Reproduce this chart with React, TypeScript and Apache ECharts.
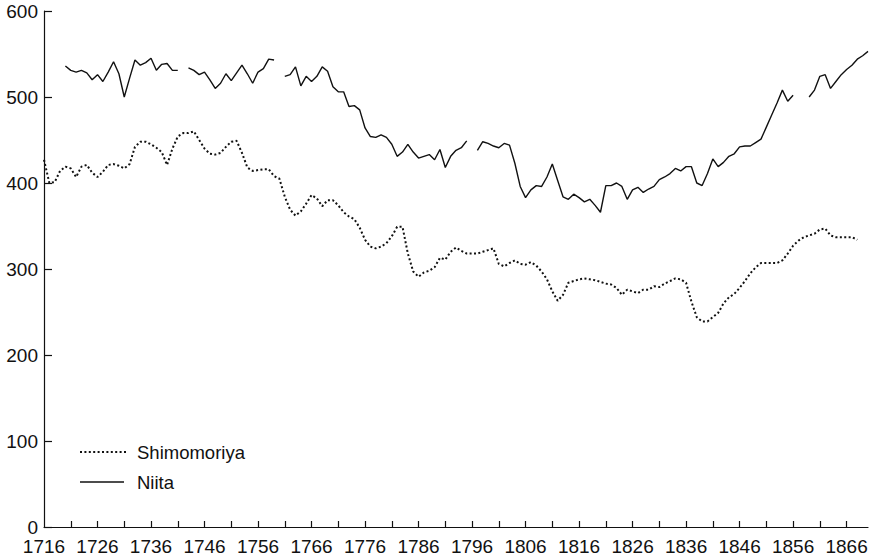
import { useEffect, useRef } from "react";
import * as echarts from "echarts";

// Niita (solid), annual values from 1720 to 1870; null = gap in the record
const niitaStart = 1720;
const niitaValues: (number | null)[] = [
  536, 531, 529, 531, 528, 520, 526, 518, 529, 541, // 1720-1729
  527, 500, 522, 543, 537, 540, 545, 531, 538, 539, // 1730-1739
  531, 531, null, 534, 531, 526, 529, 520, 510, 516, // 1740-1749
  527, 519, 528, 537, 527, 516, 529, 533, 544, 543, // 1750-1759
  null, 524, 526, 535, 513, 524, 518, 524, 535, 530, // 1760-1769
  512, 506, 506, 489, 490, 485, 464, 454, 453, 456, // 1770-1779
  453, 445, 431, 436, 445, 436, 429, 431, 433, 427, // 1780-1789
  439, 418, 431, 438, 441, 449, null, 438, 448, 446, // 1790-1799
  443, 441, 446, 444, 423, 396, 383, 392, 397, 396, // 1800-1809
  407, 422, 403, 384, 381, 387, 383, 378, 381, 374, // 1810-1819
  366, 397, 397, 400, 396, 381, 392, 395, 389, 393, // 1820-1829
  396, 404, 407, 411, 417, 414, 419, 419, 400, 397, // 1830-1839
  411, 428, 419, 424, 431, 434, 442, 443, 443, 447, // 1840-1849
  451, 465, 479, 493, 508, 495, 502, null, null, 500, // 1850-1859
  508, 524, 526, 510, 518, 526, 532, 537, 544, 548, // 1860-1869
  553, // 1870
];

// Shimomoriya (dotted), annual values from 1716 to 1868
const shimoStart = 1716;
const shimoValues: (number | null)[] = [
  427, 400, 401, 414, // 1716-1719
  419, 417, 407, 419, 421, 412, 407, 413, 421, 422, // 1720-1729
  420, 417, 422, 442, 448, 448, 445, 441, 436, 421, // 1730-1739
  440, 454, 458, 458, 460, 450, 440, 434, 433, 435, // 1740-1749
  442, 448, 449, 435, 418, 414, 415, 416, 416, 408, // 1750-1759
  405, 384, 369, 362, 367, 376, 386, 382, 373, 380, // 1760-1769
  380, 374, 366, 361, 358, 348, 334, 326, 324, 326, // 1770-1779
  330, 338, 349, 349, 318, 297, 291, 296, 298, 302, // 1780-1789
  313, 311, 320, 325, 321, 318, 318, 318, 320, 322, // 1790-1799
  324, 306, 303, 307, 310, 306, 305, 308, 304, 297, // 1800-1809
  288, 274, 263, 270, 284, 286, 288, 289, 288, 287, // 1810-1819
  285, 283, 282, 278, 270, 276, 274, 272, 276, 276, // 1820-1829
  280, 279, 283, 286, 289, 288, 284, 262, 244, 239, // 1830-1839
  239, 244, 249, 260, 267, 271, 278, 286, 295, 302, // 1840-1849
  307, 307, 307, 307, 310, 318, 327, 333, 337, 339, // 1850-1859
  341, 346, 347, 339, 337, 337, 337, 337, 334, // 1860-1868
];

const seriesNames = ["Shimomoriya", "Niita"];

const xMin = 1716;
const xMax = 1870;
const xTickValues = [
  1721, 1726, 1731, 1736, 1741, 1746, 1751, 1756, 1761, 1766, 1771, 1776, 1781, 1786, 1791,
  1796, 1801, 1806, 1811, 1816, 1821, 1826, 1831, 1836, 1841, 1846, 1851, 1856, 1861, 1866,
];
const xLabelValues = [
  1716, 1726, 1736, 1746, 1756, 1766, 1776, 1786, 1796, 1806, 1816, 1826, 1836, 1846, 1856, 1866,
];
const yTicks = [0, 100, 200, 300, 400, 500, 600];

const FONT = "'Liberation Sans', Arial, Helvetica, sans-serif";
const INK = "#111";
const DOT_DASH = [2, 2.4];

function toPairs(start: number, values: (number | null)[]) {
  return values.map((v, i) => [start + i, v === null ? "-" : v]);
}

export default function App() {
  const ref = useRef<HTMLDivElement>(null);

  useEffect(() => {
    if (!ref.current) return;
    const chart = echarts.init(ref.current, undefined, { renderer: "svg" });
    chart.setOption({
      animation: false,
      backgroundColor: "#ffffff",
      textStyle: { fontFamily: FONT },
      grid: { left: 44, right: 3, top: 11, bottom: 33, containLabel: false },
      graphic: [
        {
          type: "line",
          shape: { x1: 80, y1: 452, x2: 128, y2: 452 },
          style: { stroke: INK, lineWidth: 2, lineDash: DOT_DASH },
        },
        {
          type: "text",
          x: 137,
          y: 452,
          style: {
            text: seriesNames[0],
            fontFamily: FONT,
            fontSize: 18.5,
            fill: INK,
            verticalAlign: "middle",
            align: "left",
          },
        },
        {
          type: "line",
          shape: { x1: 80, y1: 482, x2: 124, y2: 482 },
          style: { stroke: INK, lineWidth: 1.4 },
        },
        {
          type: "text",
          x: 137,
          y: 482,
          style: {
            text: seriesNames[1],
            fontFamily: FONT,
            fontSize: 18.5,
            fill: INK,
            verticalAlign: "middle",
            align: "left",
          },
        },
      ],
      xAxis: {
        type: "value",
        min: xMin,
        max: xMax,
        interval: 5,
        splitLine: { show: false },
        axisLine: { show: true, lineStyle: { color: INK, width: 1.2 } },
        axisTick: {
          show: true,
          inside: true,
          length: 6,
          customValues: xTickValues,
          lineStyle: { color: INK, width: 1.2 },
        },
        axisLabel: {
          show: true,
          customValues: xLabelValues,
          margin: 10,
          fontSize: 19,
          color: INK,
          fontFamily: FONT,
          showMinLabel: true,
          showMaxLabel: true,
          hideOverlap: false,
          formatter: (v: number) => ((v - xMin) % 10 === 0 ? String(v) : ""),
        },
      },
      yAxis: {
        type: "value",
        min: 0,
        max: 600,
        interval: 100,
        splitLine: { show: false },
        axisLine: { show: true, lineStyle: { color: INK, width: 1.2 } },
        axisTick: {
          show: true,
          inside: true,
          length: 8,
          customValues: yTicks,
          lineStyle: { color: INK, width: 1.2 },
        },
        axisLabel: {
          show: true,
          margin: 6,
          fontSize: 19,
          color: INK,
          fontFamily: FONT,
        },
      },
      series: [
        {
          name: seriesNames[0],
          type: "line",
          data: toPairs(shimoStart, shimoValues),
          symbol: "none",
          showSymbol: false,
          connectNulls: false,
          color: INK,
          lineStyle: { color: INK, width: 2, type: DOT_DASH, cap: "butt" },
          z: 2,
        },
        {
          name: seriesNames[1],
          type: "line",
          data: toPairs(niitaStart, niitaValues),
          symbol: "none",
          showSymbol: false,
          connectNulls: false,
          color: INK,
          lineStyle: { color: INK, width: 1.4, type: "solid" },
          z: 3,
        },
      ],
    });
    return () => chart.dispose();
  }, []);

  return (
    <div
      ref={ref}
      style={{ position: "fixed", left: 0, top: 0, width: 871, height: 560, background: "#fff" }}
    />
  );
}
